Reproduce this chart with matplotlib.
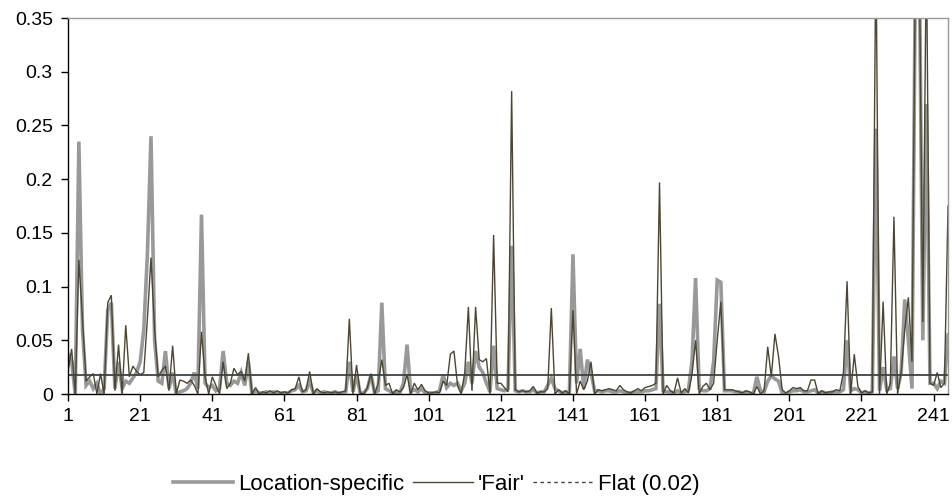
import numpy as np
import matplotlib
matplotlib.use("Agg")
import matplotlib.pyplot as plt
from matplotlib.lines import Line2D

plt.rcParams['font.family'] = ['Liberation Sans', 'DejaVu Sans']

# values, index 1..245
location_specific = [
    0.037, 0.030, 0.000, 0.235, 0.060, 0.008, 0.012, 0.005, 0.010, 0.000,
    0.005, 0.078, 0.085, 0.005, 0.030, 0.005, 0.012, 0.010, 0.015, 0.020,
    0.030, 0.060, 0.130, 0.240, 0.050, 0.012, 0.010, 0.040, 0.005, 0.020,
    0.000, 0.002, 0.003, 0.005, 0.010, 0.020, 0.005, 0.167, 0.010, 0.006,
    0.008, 0.003, 0.005, 0.040, 0.010, 0.008, 0.012, 0.010, 0.020, 0.008,
    0.030, 0.000, 0.003, 0.001, 0.001, 0.002, 0.001, 0.002, 0.001, 0.001,
    0.001, 0.001, 0.003, 0.004, 0.008, 0.002, 0.003, 0.012, 0.001, 0.003,
    0.001, 0.002, 0.001, 0.001, 0.002, 0.001, 0.001, 0.002, 0.030, 0.002,
    0.018, 0.001, 0.001, 0.005, 0.018, 0.001, 0.003, 0.085, 0.005, 0.003,
    0.001, 0.002, 0.001, 0.010, 0.046, 0.002, 0.004, 0.002, 0.005, 0.001,
    0.001, 0.001, 0.001, 0.003, 0.018, 0.006, 0.010, 0.008, 0.010, 0.003,
    0.010, 0.030, 0.010, 0.040, 0.025, 0.020, 0.010, 0.002, 0.045, 0.005,
    0.004, 0.003, 0.005, 0.138, 0.003, 0.002, 0.003, 0.002, 0.002, 0.004,
    0.001, 0.002, 0.002, 0.008, 0.015, 0.005, 0.003, 0.001, 0.002, 0.000,
    0.130, 0.010, 0.042, 0.005, 0.032, 0.020, 0.003, 0.003, 0.002, 0.003,
    0.003, 0.002, 0.002, 0.003, 0.002, 0.001, 0.001, 0.002, 0.002, 0.002,
    0.003, 0.003, 0.004, 0.005, 0.084, 0.003, 0.002, 0.002, 0.001, 0.003,
    0.001, 0.002, 0.004, 0.030, 0.108, 0.005, 0.003, 0.003, 0.005, 0.030,
    0.106, 0.104, 0.003, 0.003, 0.003, 0.002, 0.002, 0.001, 0.002, 0.001,
    0.000, 0.016, 0.003, 0.002, 0.012, 0.017, 0.014, 0.012, 0.001, 0.000,
    0.002, 0.003, 0.003, 0.004, 0.002, 0.002, 0.003, 0.004, 0.001, 0.002,
    0.001, 0.001, 0.002, 0.002, 0.002, 0.004, 0.050, 0.003, 0.005, 0.004,
    0.001, 0.002, 0.001, 0.002, 0.247, 0.003, 0.025, 0.004, 0.005, 0.035,
    0.005, 0.020, 0.088, 0.050, 0.005, 0.420, 0.420, 0.050, 0.270, 0.010,
    0.010, 0.005, 0.012, 0.010, 0.055,
]

fair = [
    0.021, 0.042, 0.000, 0.125, 0.070, 0.012, 0.016, 0.019, 0.000, 0.019,
    0.000, 0.085, 0.092, 0.003, 0.046, 0.000, 0.064, 0.016, 0.026, 0.021,
    0.018, 0.020, 0.070, 0.127, 0.060, 0.016, 0.022, 0.026, 0.003, 0.045,
    0.000, 0.013, 0.012, 0.010, 0.013, 0.008, 0.000, 0.058, 0.016, 0.000,
    0.016, 0.008, 0.000, 0.030, 0.005, 0.010, 0.024, 0.018, 0.021, 0.012,
    0.038, 0.000, 0.006, 0.000, 0.002, 0.001, 0.003, 0.001, 0.003, 0.001,
    0.002, 0.001, 0.004, 0.005, 0.016, 0.002, 0.004, 0.021, 0.000, 0.005,
    0.002, 0.001, 0.002, 0.001, 0.002, 0.001, 0.002, 0.003, 0.070, 0.000,
    0.027, 0.001, 0.000, 0.006, 0.019, 0.000, 0.010, 0.032, 0.008, 0.010,
    0.000, 0.004, 0.002, 0.006, 0.018, 0.000, 0.010, 0.004, 0.009, 0.003,
    0.001, 0.001, 0.002, 0.001, 0.012, 0.008, 0.037, 0.040, 0.008, 0.000,
    0.020, 0.081, 0.003, 0.081, 0.032, 0.030, 0.033, 0.000, 0.148, 0.010,
    0.010, 0.006, 0.002, 0.282, 0.004, 0.002, 0.003, 0.002, 0.003, 0.007,
    0.001, 0.002, 0.002, 0.005, 0.080, 0.000, 0.004, 0.001, 0.003, 0.000,
    0.078, 0.000, 0.012, 0.004, 0.012, 0.030, 0.000, 0.004, 0.003, 0.004,
    0.005, 0.004, 0.003, 0.008, 0.004, 0.002, 0.001, 0.003, 0.005, 0.003,
    0.006, 0.007, 0.008, 0.010, 0.197, 0.000, 0.008, 0.003, 0.001, 0.015,
    0.001, 0.005, 0.001, 0.018, 0.050, 0.000, 0.007, 0.010, 0.004, 0.010,
    0.050, 0.086, 0.004, 0.004, 0.004, 0.003, 0.002, 0.001, 0.003, 0.002,
    0.000, 0.007, 0.000, 0.003, 0.044, 0.016, 0.056, 0.035, 0.004, 0.001,
    0.003, 0.006, 0.005, 0.006, 0.003, 0.003, 0.013, 0.013, 0.000, 0.003,
    0.001, 0.002, 0.002, 0.004, 0.003, 0.020, 0.105, 0.000, 0.037, 0.007,
    0.001, 0.003, 0.001, 0.002, 0.420, 0.000, 0.086, 0.000, 0.010, 0.165,
    0.000, 0.020, 0.060, 0.090, 0.030, 0.420, 0.420, 0.067, 0.420, 0.010,
    0.008, 0.020, 0.006, 0.010, 0.175,
]

flat_level = 0.018
x_ticks = [1, 21, 41, 61, 81, 101, 121, 141, 161, 181, 201, 221, 241]
y_ticks = [0, 0.05, 0.1, 0.15, 0.2, 0.25, 0.3, 0.35]
y_labels = ["0", "0.05", "0.1", "0.15", "0.2", "0.25", "0.3", "0.35"]

x = np.arange(1, len(fair) + 1)

fig = plt.figure(figsize=(9.53, 4.99), dpi=100)
ax = fig.add_axes([0.0714, 0.2104, 0.9234, 0.7535])

ax.plot(x, location_specific, color='#999999', lw=2.6, solid_joinstyle='miter')
ax.plot(x, fair, color='#4d4630', lw=1.0, solid_joinstyle='miter')
ax.plot(x, [flat_level] * len(x), color='#3b4343', lw=1.3)

ax.set_xlim(1, len(x))
ax.set_ylim(0, 0.35)
ax.set_xticks(x_ticks)
ax.set_xticklabels([str(t) for t in x_ticks])
ax.set_yticks(y_ticks)
ax.set_yticklabels(y_labels)
ax.tick_params(axis='both', labelsize=14, direction='out', length=5,
               width=1, colors='black')
ax.tick_params(axis='x', pad=5)
ax.tick_params(axis='y', pad=6)

ax.spines['left'].set_color('black')
ax.spines['bottom'].set_color('black')
ax.spines['top'].set_color('#9a9a9a')
ax.spines['right'].set_color('#9a9a9a')
for s in ax.spines.values():
    s.set_linewidth(1.0)

handles = [
    Line2D([], [], color='#999999', lw=2.6),
    Line2D([], [], color='#4d4630', lw=1.0),
    Line2D([], [], color='#3b4343', lw=1.0, linestyle=(0, (2.5, 2.5))),
]
labels = ["Location-specific", "'Fair'", "Flat (0.02)"]
fig.legend(handles, labels, loc='center', bbox_to_anchor=(0.458, 0.03),
           ncol=3, frameon=False, fontsize=16, handlelength=2.7,
           handletextpad=0.2, columnspacing=0.4)

fig.savefig("out.png", dpi=100)
